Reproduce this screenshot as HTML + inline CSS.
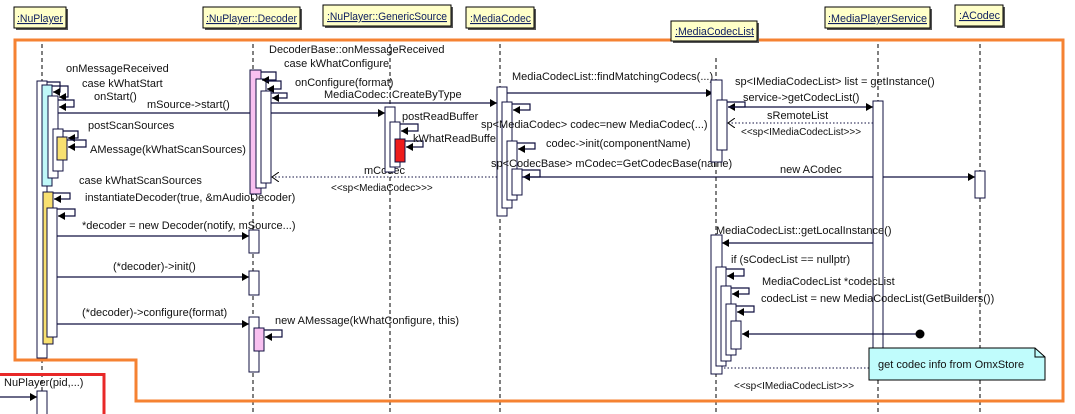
<!DOCTYPE html>
<html><head><meta charset="utf-8">
<style>
html,body{margin:0;padding:0;background:#fff;}
svg{display:block;}
text{font-family:"Liberation Sans",sans-serif;font-size:11px;fill:#111;}
.h{fill:#102060;text-decoration:underline;}
.ll{stroke:#000;stroke-width:1;stroke-dasharray:4,3;fill:none;}
.a{fill:#fff;stroke:#101040;stroke-width:1;}
.m{stroke:#101040;stroke-width:1.2;fill:none;}
.d{stroke:#101040;stroke-width:1;stroke-dasharray:1.5,2;fill:none;}
</style></head><body>
<svg width="1075" height="414" viewBox="0 0 1075 414" xmlns="http://www.w3.org/2000/svg">
<defs>
<marker id="ar" markerWidth="8" markerHeight="8" refX="7" refY="4" orient="auto" markerUnits="userSpaceOnUse"><path d="M0,0 L7,4 L0,8 z" fill="#000"/></marker>
<marker id="op" markerWidth="8" markerHeight="10" refX="7" refY="5" orient="auto" markerUnits="userSpaceOnUse"><path d="M0,0 L7,5 L0,10" fill="none" stroke="#000"/></marker>
</defs>

<line class="ll" x1="42" y1="44" x2="42" y2="414"/>
<line class="ll" x1="253" y1="44" x2="253" y2="414"/>
<line class="ll" x1="390" y1="44" x2="390" y2="414"/>
<line class="ll" x1="500" y1="44" x2="500" y2="414"/>
<line class="ll" x1="716" y1="58" x2="716" y2="414"/>
<line class="ll" x1="878" y1="44" x2="878" y2="414"/>
<line class="ll" x1="980" y1="44" x2="980" y2="414"/>

<path d="M15,40 L1063,40 L1063,401 L136,401 L136,360 L15,360 Z" fill="none" stroke="#f58232" stroke-width="3"/>
<path d="M0,374.5 L104,374.5 L104,414" fill="none" stroke="#e82828" stroke-width="3"/>

<g>
<rect x="16" y="9" width="52" height="21" fill="#555"/><rect x="14" y="7" width="52" height="21" fill="#ffffc8" stroke="#000"/><text class="h" x="17" y="22" textLength="46" lengthAdjust="spacingAndGlyphs">:NuPlayer</text>
<rect x="205" y="9" width="97" height="21" fill="#555"/><rect x="203" y="7" width="97" height="21" fill="#ffffc8" stroke="#000"/><text class="h" x="206" y="22" textLength="91" lengthAdjust="spacingAndGlyphs">:NuPlayer::Decoder</text>
<rect x="325" y="7" width="128" height="21" fill="#555"/><rect x="323" y="5" width="128" height="21" fill="#ffffc8" stroke="#000"/><text class="h" x="327" y="20" textLength="120" lengthAdjust="spacingAndGlyphs">:NuPlayer::GenericSource</text>
<rect x="468" y="9" width="68" height="21" fill="#555"/><rect x="466" y="7" width="68" height="21" fill="#ffffc8" stroke="#000"/><text class="h" x="470" y="22" textLength="61" lengthAdjust="spacingAndGlyphs">:MediaCodec</text>
<rect x="673" y="23" width="86" height="20" fill="#555"/><rect x="671" y="21" width="86" height="20" fill="#ffffc8" stroke="#000"/><text class="h" x="675" y="35" textLength="79" lengthAdjust="spacingAndGlyphs">:MediaCodecList</text>
<rect x="827" y="9" width="105" height="21" fill="#555"/><rect x="825" y="7" width="105" height="21" fill="#ffffc8" stroke="#000"/><text class="h" x="828" y="22" textLength="99" lengthAdjust="spacingAndGlyphs">:MediaPlayerService</text>
<rect x="957" y="7" width="48" height="21" fill="#555"/><rect x="955" y="5" width="48" height="21" fill="#ffffc8" stroke="#000"/><text class="h" x="959" y="19" textLength="41" lengthAdjust="spacingAndGlyphs">:ACodec</text>
</g>

<rect class="a" x="37" y="81" width="10" height="277"/>
<rect class="a" x="42" y="85" width="10" height="101" style="fill:#c0f8f8"/>
<rect class="a" x="48" y="96" width="10" height="82"/>
<rect class="a" x="53" y="129" width="10" height="42"/>
<rect class="a" x="57" y="137" width="10" height="23" style="fill:#f8e070"/>
<rect class="a" x="43" y="192" width="10" height="152" style="fill:#f8e070"/>
<rect class="a" x="47" y="208" width="10" height="129"/>
<rect class="a" x="37" y="391" width="10" height="30"/>
<path class="m" d="M47,82 H60 V92 H53" marker-end="url(#ar)"/>
<path class="m" d="M52,86 H68 V97 H59" marker-end="url(#ar)"/>
<path class="m" d="M58,100 H74 V107 H59" marker-end="url(#ar)"/>
<path class="m" d="M63,131 H78 V138 H68" marker-end="url(#ar)"/>
<path class="m" d="M67,140 H86 V147 H68" marker-end="url(#ar)"/>
<path class="m" d="M53,193 H70 V199 H54" marker-end="url(#ar)"/>
<path class="m" d="M57,209 H75 V216 H58" marker-end="url(#ar)"/>
<line class="m" x1="0" y1="397" x2="37" y2="397" marker-end="url(#ar)"/>

<text x="66" y="72">onMessageReceived</text>
<text x="82" y="87">case kWhatStart</text>
<text x="94" y="100">onStart()</text>
<text x="147" y="108">mSource-&gt;start()</text>
<line class="m" x1="58" y1="113" x2="385" y2="113" marker-end="url(#ar)"/>
<text x="88" y="129">postScanSources</text>
<text x="90" y="153">AMessage(kWhatScanSources)</text>
<text x="79" y="184">case kWhatScanSources</text>
<text x="85" y="201">instantiateDecoder(true, &amp;mAudioDecoder)</text>
<text x="82" y="229">*decoder = new Decoder(notify, mSource...)</text>
<line class="m" x1="57" y1="236" x2="249" y2="236" marker-end="url(#ar)"/>
<text x="113" y="270">(*decoder)-&gt;init()</text>
<line class="m" x1="57" y1="277" x2="249" y2="277" marker-end="url(#ar)"/>
<text x="82" y="316">(*decoder)-&gt;configure(format)</text>
<line class="m" x1="57" y1="324" x2="249" y2="324" marker-end="url(#ar)"/>
<text x="4" y="386">NuPlayer(pid,...)</text>

<rect class="a" x="249" y="230" width="10" height="23"/>
<rect class="a" x="249" y="271" width="10" height="24"/>
<rect class="a" x="249" y="317" width="10" height="55"/>
<rect class="a" x="254" y="328" width="10" height="23" style="fill:#f8c0f0"/>
<path class="m" d="M264,330 H282 V337 H265" marker-end="url(#ar)"/>
<text x="275" y="324">new AMessage(kWhatConfigure, this)</text>

<rect class="a" x="250" y="70" width="11" height="124" style="fill:#f8c0f0"/>
<rect class="a" x="256" y="79" width="10" height="109"/>
<rect class="a" x="261" y="91" width="10" height="92"/>
<path class="m" d="M261,72 H276 V80 H262" marker-end="url(#ar)"/>
<path class="m" d="M266,81 H281 V89 H267" marker-end="url(#ar)"/>
<path class="m" d="M271,93 H287 V98 H272" marker-end="url(#ar)"/>
<text x="269" y="53">DecoderBase::onMessageReceived</text>
<text x="284" y="67">case kWhatConfigure</text>
<text x="295" y="86">onConfigure(format)</text>
<text x="324" y="98">MediaCodec::CreateByType</text>
<line class="m" x1="271" y1="103" x2="497" y2="103" marker-end="url(#ar)"/>
<line class="d" x1="497" y1="177" x2="272" y2="177" marker-end="url(#op)"/>
<text x="364" y="174">mCodec</text>
<text x="331" y="191" style="font-size:10px">&lt;&lt;sp&lt;MediaCodec&gt;&gt;&gt;</text>

<rect class="a" x="385" y="107" width="10" height="65"/>
<rect class="a" x="390" y="122" width="10" height="45"/>
<rect class="a" x="395" y="139" width="10" height="23" style="fill:#ee1c1c"/>
<path class="m" d="M400,124 H418 V131 H401" marker-end="url(#ar)"/>
<path class="m" d="M405,141 H423 V147 H406" marker-end="url(#ar)"/>
<text x="402" y="120">postReadBuffer</text>
<text x="413" y="142">kWhatReadBuffer</text>

<rect class="a" x="497" y="87" width="10" height="129"/>
<rect class="a" x="502" y="102" width="10" height="106"/>
<rect class="a" x="507" y="141" width="10" height="59"/>
<rect class="a" x="512" y="169" width="10" height="26"/>
<path class="m" d="M512,104 H530 V110 H513" marker-end="url(#ar)"/>
<path class="m" d="M517,143 H535 V149 H518" marker-end="url(#ar)"/>
<path class="m" d="M522,170 H540 V177 H523" marker-end="url(#ar)"/>
<text x="512" y="80">MediaCodecList::findMatchingCodecs(...)</text>
<line class="m" x1="507" y1="93" x2="713" y2="93" marker-end="url(#ar)"/>
<text x="481" y="128">sp&lt;MediaCodec&gt; codec=new MediaCodec(...)</text>
<text x="546" y="147">codec-&gt;init(componentName)</text>
<text x="491" y="167">sp&lt;CodecBase&gt; mCodec=GetCodecBase(name)</text>
<line class="m" x1="522" y1="177" x2="975" y2="177" marker-end="url(#ar)"/>
<text x="780" y="173">new ACodec</text>
<rect class="a" x="975" y="171" width="10" height="27"/>

<rect class="a" x="711" y="80" width="11" height="82"/>
<rect class="a" x="717" y="100" width="10" height="50"/>
<path class="m" d="M727,102 H745 V107 H728" marker-end="url(#ar)"/>
<text x="735" y="85">sp&lt;IMediaCodecList&gt; list = getInstance()</text>
<text x="743" y="101">service-&gt;getCodecList()</text>
<line class="m" x1="728" y1="107" x2="873" y2="107" marker-end="url(#ar)"/>
<line class="d" x1="873" y1="123" x2="728" y2="123" marker-end="url(#op)"/>
<text x="767" y="119">sRemoteList</text>
<text x="741" y="135" style="font-size:10px">&lt;&lt;sp&lt;IMediaCodecList&gt;&gt;&gt;</text>
<rect class="a" x="873" y="101" width="10" height="250"/>

<text x="716" y="234">MediaCodecList::getLocalInstance()</text>
<line class="m" x1="873" y1="243" x2="722" y2="243" marker-end="url(#ar)"/>
<rect class="a" x="711" y="235" width="11" height="139"/>
<rect class="a" x="716" y="267" width="10" height="99"/>
<rect class="a" x="721" y="286" width="10" height="75"/>
<rect class="a" x="726" y="304" width="10" height="51"/>
<rect class="a" x="731" y="321" width="10" height="28"/>
<path class="m" d="M726,269 H744 V276 H727" marker-end="url(#ar)"/>
<path class="m" d="M731,288 H749 V294 H732" marker-end="url(#ar)"/>
<path class="m" d="M736,306 H754 V312 H737" marker-end="url(#ar)"/>
<line class="m" x1="920" y1="334" x2="742" y2="334" marker-end="url(#ar)"/>
<circle cx="920" cy="334" r="4.5" fill="#000"/>
<text x="731" y="263">if (sCodecList == nullptr)</text>
<text x="762" y="285">MediaCodecList *codecList</text>
<text x="761" y="302">codecList = new MediaCodecList(GetBuilders())</text>
<line class="d" x1="869" y1="368" x2="722" y2="368"/>
<text x="734" y="389" style="font-size:10px">&lt;&lt;sp&lt;IMediaCodecList&gt;&gt;&gt;</text>

<path d="M869,348 H1035 L1045,357 V380 H869 Z" fill="#c0fcfc" stroke="#000"/>
<path d="M1035,348 V357 H1045" fill="none" stroke="#000"/>
<text x="878" y="368">get codec info from OmxStore</text>
</svg>
</body></html>
